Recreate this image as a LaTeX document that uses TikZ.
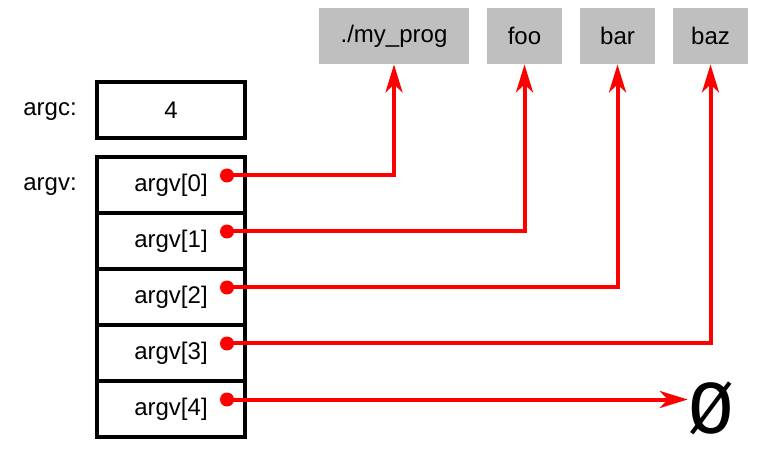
\documentclass[tikz,border=0pt]{standalone}
\usepackage{fontspec}
\setmainfont{Liberation Sans}
\newfontfamily\nilfont{Liberation Mono}
\usetikzlibrary{arrows.meta,positioning}

\tikzset{
  cell/.style={draw, line width=2pt, minimum width=74pt, minimum height=28pt, inner sep=0pt},
  strbox/.style={fill=black!25, minimum height=28pt, inner sep=0pt},
  ptr/.style={red, line width=2pt, -{Stealth[length=14pt,width=8.5pt,inset=4pt]}},
}

\begin{document}
\begin{tikzpicture}[x=0.5pt,y=-0.5pt,font=\fontsize{12}{14}\selectfont]
    \useasboundingbox (0,0) rectangle (766,454);
    % the strings
    \node[strbox, minimum width=75pt] (prog) at (394,36) {./my\_prog};
    \node[strbox, minimum width=37.5pt] (foo) at (524.5,36) {foo};
    \node[strbox, minimum width=37.5pt] (bar) at (617.5,36) {bar};
    \node[strbox, minimum width=37.5pt] (baz) at (710.5,36) {baz};
    % argc
    \node[cell] (argc) at (171,110.5) {4};
    \node (argclbl) at (50,112) {argc:};
    % argv array
    \foreach \i in {0,...,4}
        \node[cell] (argv\i) at (171,185+56*\i) {argv[\i]};
    \node (argvlbl) at (50,187) {argv:};
    \foreach \i in {0,...,4}
        \coordinate (d\i) at (227,175.5+56*\i);
    % null
    \node[inner sep=0pt, font=\nilfont\fontsize{38}{38}\selectfont] (nul) at (711,408) {Ø};
    % pointers
    \draw[ptr] (d0) -| (prog.south);
    \draw[ptr] (d1) -| (foo.south);
    \draw[ptr] (d2) -| (bar.south);
    \draw[ptr] (d3) -| (baz.south);
    \draw[ptr] (d4) -- (d4 -| nul.west);
    \foreach \i in {0,...,4}
        \fill[red] (d\i) circle (3.5pt);
\end{tikzpicture}
\end{document}
